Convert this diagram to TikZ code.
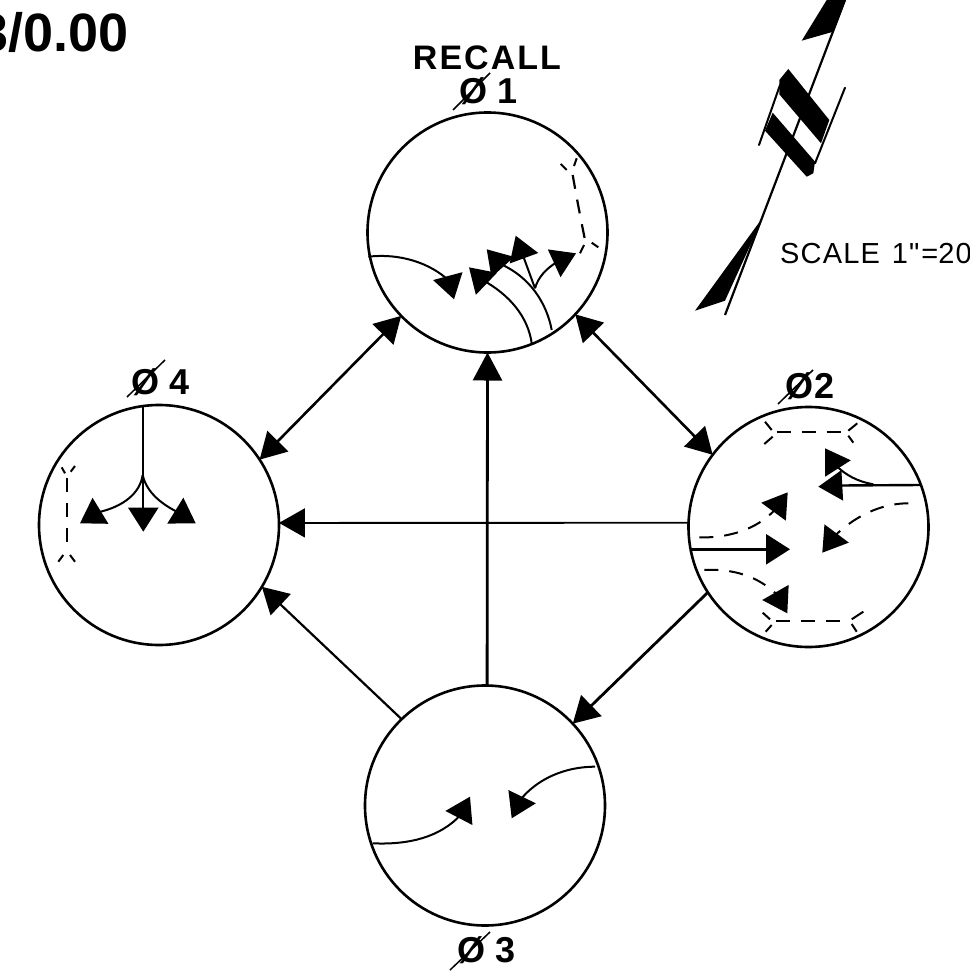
\documentclass[tikz,border=0pt]{standalone}
\usepackage{fontspec}
\setmainfont{Liberation Sans}
\newfontfamily\lettering[LetterSpace=6]{Liberation Sans}
\newfontfamily\plainlet{Liberation Sans}
\newfontfamily\scalelet[LetterSpace=4]{Liberation Sans}
\usetikzlibrary{arrows.meta}
\tikzset{
  x=1pt,y=-1pt,
  phase/.style={circle,draw,line width=2.6pt,minimum size=240pt,inner sep=0pt,outer sep=0pt},
  flow/.style={line width=2pt,-{Triangle[length=24pt,width=30pt]}},
  bothflow/.style={line width=2.6pt,{Triangle[length=26pt,width=29pt]}-{Triangle[length=26pt,width=29pt]}},
  oneflow/.style={line width=2.2pt,-{Triangle[length=26pt,width=29pt]}},
  heavyflow/.style={line width=2.8pt,-{Triangle[length=28pt,width=29pt]}},
  dashflow/.style={flow,dash pattern=on 14pt off 11pt},
  tie/.style={line width=2.2pt,dash pattern=on 14pt off 11pt},
  tick/.style={line width=2pt},
  title/.style={font=\lettering\bfseries\fontsize{34}{34}\selectfont,inner sep=0pt},
  phaselabel/.style={font=\plainlet\bfseries\fontsize{36}{36}\selectfont,inner sep=0pt},
  slash/.style={line width=1.5pt},
}
\begin{document}
\begin{tikzpicture}
\fill[white] (0,0) rectangle (969,974);
\useasboundingbox (0,0) rectangle (969,974);

% phases
\node[phase] (c1) at (487.5,232.5) {};
\node[phase] (c2) at (808.5,527) {};
\node[phase] (c3) at (485,805.5) {};
\node[phase] (c4) at (159,525) {};

% labels
\node[title] (rec) at (487,57.5) {RECALL};
\node[font=\plainlet\bfseries\fontsize{54}{54}\selectfont,inner sep=0pt,anchor=base east] (num) at (129,52) {3/0.00};
\node[font=\scalelet\fontsize{29}{29}\selectfont,inner sep=0pt,anchor=base west] (scale) at (780,263) {SCALE\hspace{12pt}1"\hspace{2pt}=\hspace{0pt}20};
\node[phaselabel] (l1) at (489,91) {Ø 1};
\node[phaselabel] (l2) at (810,386) {Ø2};
\node[phaselabel] (l3) at (487,950) {Ø 3};
\node[phaselabel] (l4) at (161,382) {Ø 4};
\draw[slash] (453,110) -- (490,73);
\draw[slash] (778,404) -- (813,370);
\draw[slash] (450,970) -- (490,932);
\draw[slash] (127,397) -- (165,360);

% connectors between phases
\draw[bothflow] (c1.224) -- (c4.33);
\draw[bothflow] (c1.317) -- (c2.143);
\draw[oneflow,line width=1.8pt] (c2.178) -- (c4.1);
\draw[heavyflow] (c3.89) -- (c1.270);
\draw[oneflow] (c3.134) -- (c4.329);
\draw[oneflow,line width=2.8pt] (c2.213) -- (c3.43);

% phase 1 flows
\coordinate (a1) at (368.3,256.7); \coordinate (a1t) at (454,299.3);
\coordinate (b1) at (531.7,343.3); \coordinate (b1t) at (469,267.3);
\coordinate (c1s) at (551.7,330); \coordinate (c1t) at (486.7,249.3);
\coordinate (d1) at (535,288.3); \coordinate (d1t) at (515.7,235.7);
\coordinate (e1t) at (576,253.3);
\draw[flow] (a1) .. controls (400,253) and (430,263) .. (449,280.7) -- (a1t);
\draw[flow] (b1) .. controls (528,317) and (510,295) .. (482,279.7) -- (b1t);
\draw[flow] (c1s) .. controls (546.7,303.3) and (530,276.7) .. (499.7,263.7) -- (c1t);
\draw[flow] (d1) -- (d1t);
\draw[flow] (d1) .. controls (538.3,276.7) and (546.7,268.3) .. (557,262) -- (e1t);
\draw[tie] (572.7,175) .. controls (577,200) and (581,220) .. (585,240);
\draw[tick] (560.7,164) -- (566.7,170);
\draw[tick] (576.7,158.3) -- (574,166);
\draw[tick] (591.7,242.7) -- (598.3,247.3);
\draw[tick] (584,245) -- (580,253.3);

% phase 2 flows
\coordinate (a2) at (920,485); \coordinate (a2t) at (818.3,486.7);
\coordinate (b2) at (873.3,484.3); \coordinate (b2t) at (825,448.3);
\coordinate (c2s) at (908.3,503.3); \coordinate (c2t) at (822.3,552.7);
\coordinate (d2) at (699.3,537.3); \coordinate (d2t) at (787.7,492.3);
\coordinate (e2) at (691.7,549.3); \coordinate (e2t) at (790,549.3);
\coordinate (f2) at (704.3,570); \coordinate (f2t) at (787.3,613.3);
\draw[flow,line width=2.4pt] (a2) -- (840,485.5) -- (a2t);
\draw[flow] (b2) .. controls (858,481.7) and (845,475) .. (835.7,465) -- (b2t);
\draw[dashflow] (c2s) .. controls (886.7,503.3) and (860,511.7) .. (835.3,535.3) -- (c2t);
\draw[dashflow] (d2) .. controls (726.7,538.3) and (756.7,530) .. (775.3,509.3) -- (d2t);
\draw[flow,line width=2.8pt] (e2) -- (e2t);
\draw[dashflow] (f2) .. controls (733.3,568.3) and (758.3,576.7) .. (776.3,594) -- (f2t);
\draw[tie] (776.7,431.7) -- (846.7,431.7);
\draw[tick] (765,421.7) -- (771.7,430);
\draw[tick] (764.3,444) -- (772.7,436.7);
\draw[tick] (857.3,423.3) -- (848.3,430.7);
\draw[tick] (848.3,435.7) -- (853.3,442.7);
\draw[tie] (776,620.7) -- (848.3,620.7);
\draw[tick] (762.7,612.7) -- (770,619.3);
\draw[tick] (771.7,625) -- (765.7,631.7);
\draw[tick] (863.3,611.7) -- (851.7,619.3);
\draw[tick] (851.7,624) -- (856.7,631.7);

% phase 3 flows
\coordinate (g3) at (372.7,843.3); \coordinate (g3t) at (470,796.7);
\coordinate (h3) at (595,766.7); \coordinate (h3t) at (511.7,818.3);
\draw[flow] (g3) .. controls (410,845) and (440,836.7) .. (460.3,815.3) -- (g3t);
\draw[flow] (h3) .. controls (563.3,766.7) and (536.7,780) .. (521,799) -- (h3t);

% phase 4 flows
\coordinate (i4) at (143.3,406.7); \coordinate (i4t) at (143.3,531.7);
\coordinate (j4) at (142.7,475); \coordinate (j4t) at (80,523.3);
\coordinate (k4t) at (195.7,523.3);
\draw[flow] (i4) -- (i4t);
\draw[flow] (j4) .. controls (140,493.3) and (123.3,506.7) .. (98,512.3) -- (j4t);
\draw[flow] (j4) .. controls (146.7,493.3) and (163.3,505) .. (178,512.3) -- (k4t);
\draw[tie] (66.7,478) -- (66.7,550);
\draw[tick] (61.7,467.3) -- (65,473.3);
\draw[tick] (75,466) -- (70.7,471.7);
\draw[tick] (63.3,555) -- (58.3,561.7);
\draw[tick] (70,555) -- (75,561.7);

% north arrow
\draw[line width=2.2pt] (845,0) -- (725,315);
\fill (826.7,0) -- (801.7,40.7) -- (833.3,31.7) -- (845.7,0) -- cycle;
\fill (763.3,216.7) -- (695,310.7) -- (725,300.7) -- cycle;
\fill (779.3,80) -- (788.3,69) -- (829.3,120) -- (821,143.3) -- (779.3,94.3) -- cycle;
\fill (772.7,112.7) -- (765,130.7) -- (806.7,176.7) -- (813.3,173.3) -- (815,161.7) -- cycle;
\draw[line width=2pt,line cap=round] (780,85) -- (759,145);
\draw[line width=2pt,line cap=round] (845,87.7) -- (815,163.3);
\end{tikzpicture}
\end{document}
